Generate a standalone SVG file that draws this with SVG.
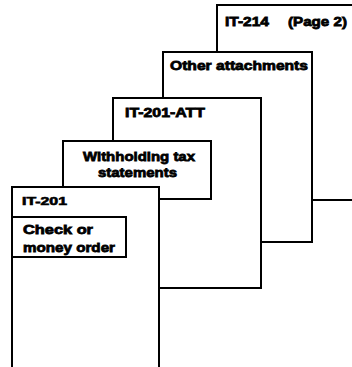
<svg xmlns="http://www.w3.org/2000/svg" width="352" height="367" viewBox="0 0 352 367">
<style>
.pg{fill:#fff;stroke:#000;stroke-width:2}
.t{font-family:"Liberation Sans",Arial,sans-serif;font-weight:bold;font-size:13.5px;fill:#000;stroke:#000;stroke-width:0.8}
.s{font-size:10.5px;stroke-width:0.6}
</style>
<rect width="352" height="367" fill="#fff"/>
<g id="page-it214">
<rect class="pg" x="217" y="5" width="150" height="195"/>
<text class="t" x="225" y="26" textLength="44" lengthAdjust="spacingAndGlyphs">IT-214</text>
<text class="t" x="288" y="26" textLength="59" lengthAdjust="spacingAndGlyphs">(Page 2)</text>
</g>
<g id="page-other">
<rect class="pg" x="163" y="52" width="149" height="190"/>
<text class="t" x="170" y="70" textLength="138" lengthAdjust="spacingAndGlyphs">Other attachments</text>
</g>
<g id="page-it201att">
<rect class="pg" x="113" y="98" width="148" height="190"/>
<text class="t" x="125" y="117" textLength="80" lengthAdjust="spacingAndGlyphs">IT-201-ATT</text>
</g>
<g id="page-withholding">
<rect class="pg" x="63" y="141" width="148" height="58"/>
<text class="t" x="83" y="161" textLength="112" lengthAdjust="spacingAndGlyphs">Withholding tax</text>
<text class="t" x="98" y="177" textLength="79" lengthAdjust="spacingAndGlyphs">statements</text>
</g>
<g id="page-it201">
<rect class="pg" x="12" y="187" width="147" height="200"/>
<text class="t s" x="22" y="205" textLength="45" lengthAdjust="spacingAndGlyphs">IT-201</text>
<rect class="pg" x="12" y="217" width="114" height="40"/>
<text class="t" x="23" y="234" textLength="70" lengthAdjust="spacingAndGlyphs">Check or</text>
<text class="t" x="23" y="252" textLength="92" lengthAdjust="spacingAndGlyphs">money order</text>
</g>
<g id="connectors"></g>
</svg>
